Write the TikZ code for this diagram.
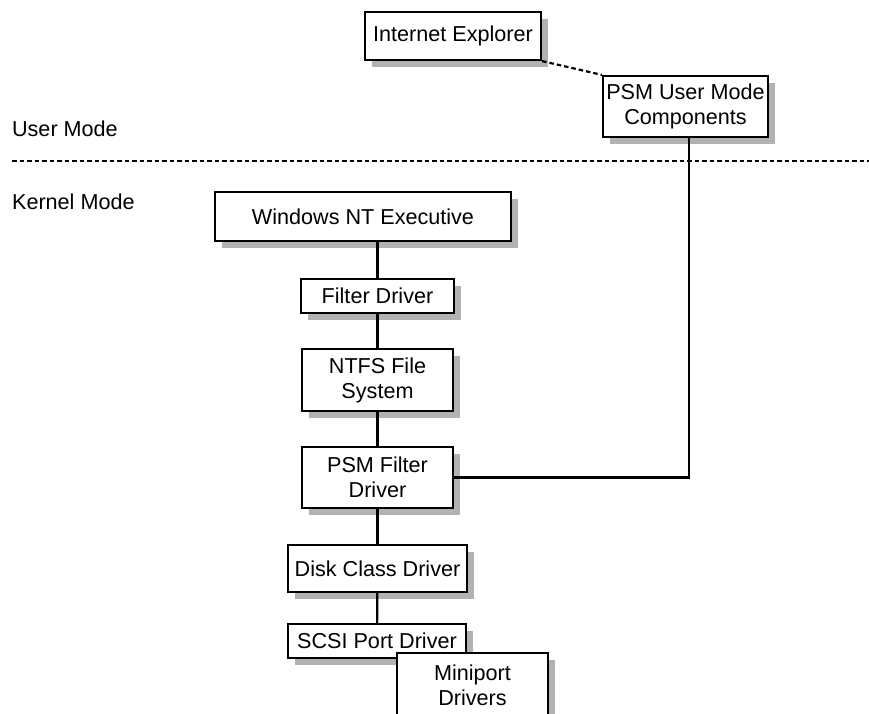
\documentclass[tikz,border=0pt]{standalone}
\usepackage{fontspec}
\setmainfont{Liberation Sans}
\usetikzlibrary{shadows, positioning}
\definecolor{shadowgray}{gray}{0.70}

\begin{document}
\begin{tikzpicture}[x=1pt, y=-1pt, line width=2.2pt,
    drvbox/.style={draw, fill=white, align=center, inner sep=0pt,
        font=\fontsize{21.6}{25}\selectfont,
        drop shadow={shadow xshift=7pt, shadow yshift=-7pt, fill=shadowgray, opacity=1}},
    modelabel/.style={anchor=west, inner sep=0pt, font=\fontsize{21.6}{25}\selectfont},
    modeline/.style={dash pattern=on 4.5pt off 3pt}]

        \useasboundingbox (0,0) rectangle (869,713);

        % Draw the user mode part

        \node[drvbox, minimum width=176pt, minimum height=48pt] (ie) at (453,36) {Internet Explorer};
        \node[drvbox, minimum width=165pt, minimum height=61pt] (psmuser) at (685.5,106.5) {PSM User Mode\\Components};

        % Draw the border between the two modes

        \node[modelabel] (user) at (11,129) {User Mode};
        \node[modelabel] (kernel) at (11,202) {Kernel Mode};
        \coordinate (bl) at (12,161);
        \coordinate (br) at (869,161);
        \draw[modeline] (bl) -- (br);

        % Draw the driver stack

        \node[drvbox, minimum width=296pt, minimum height=49pt] (ntexec) at (363,216.5) {Windows NT Executive};
        \node[drvbox, minimum width=153pt, minimum height=34pt] (filter) at (377.5,296) {Filter Driver};
        \node[drvbox, minimum width=151pt, minimum height=62pt] (ntfs) at (377.5,380) {NTFS File\\System};
        \node[drvbox, minimum width=151pt, minimum height=61pt] (psmfilter) at (377.5,477.5) {PSM Filter\\Driver};
        \node[drvbox, minimum width=179pt, minimum height=47pt] (disk) at (377.5,568.5) {Disk Class Driver};
        \node[drvbox, minimum width=178pt, minimum height=34pt] (scsi) at (377,641) {SCSI Port Driver};
        \node[drvbox, minimum width=151pt, minimum height=64pt] (miniport) at (472.5,685) {Miniport\\Drivers};

        % Lines connecting the boxes

        \draw[modeline] (ie.south east) -- (psmuser.north west);
        \draw (ntexec.south -| filter.north) -- (filter.north);
        \draw (filter) -- (ntfs);
        \draw (ntfs) -- (psmfilter);
        \draw (psmfilter) -- (disk);
        \draw (disk) -- (scsi);
        \draw (psmfilter.east) -| ([xshift=3.5pt]psmuser.south);
    \end{tikzpicture}
\end{document}
